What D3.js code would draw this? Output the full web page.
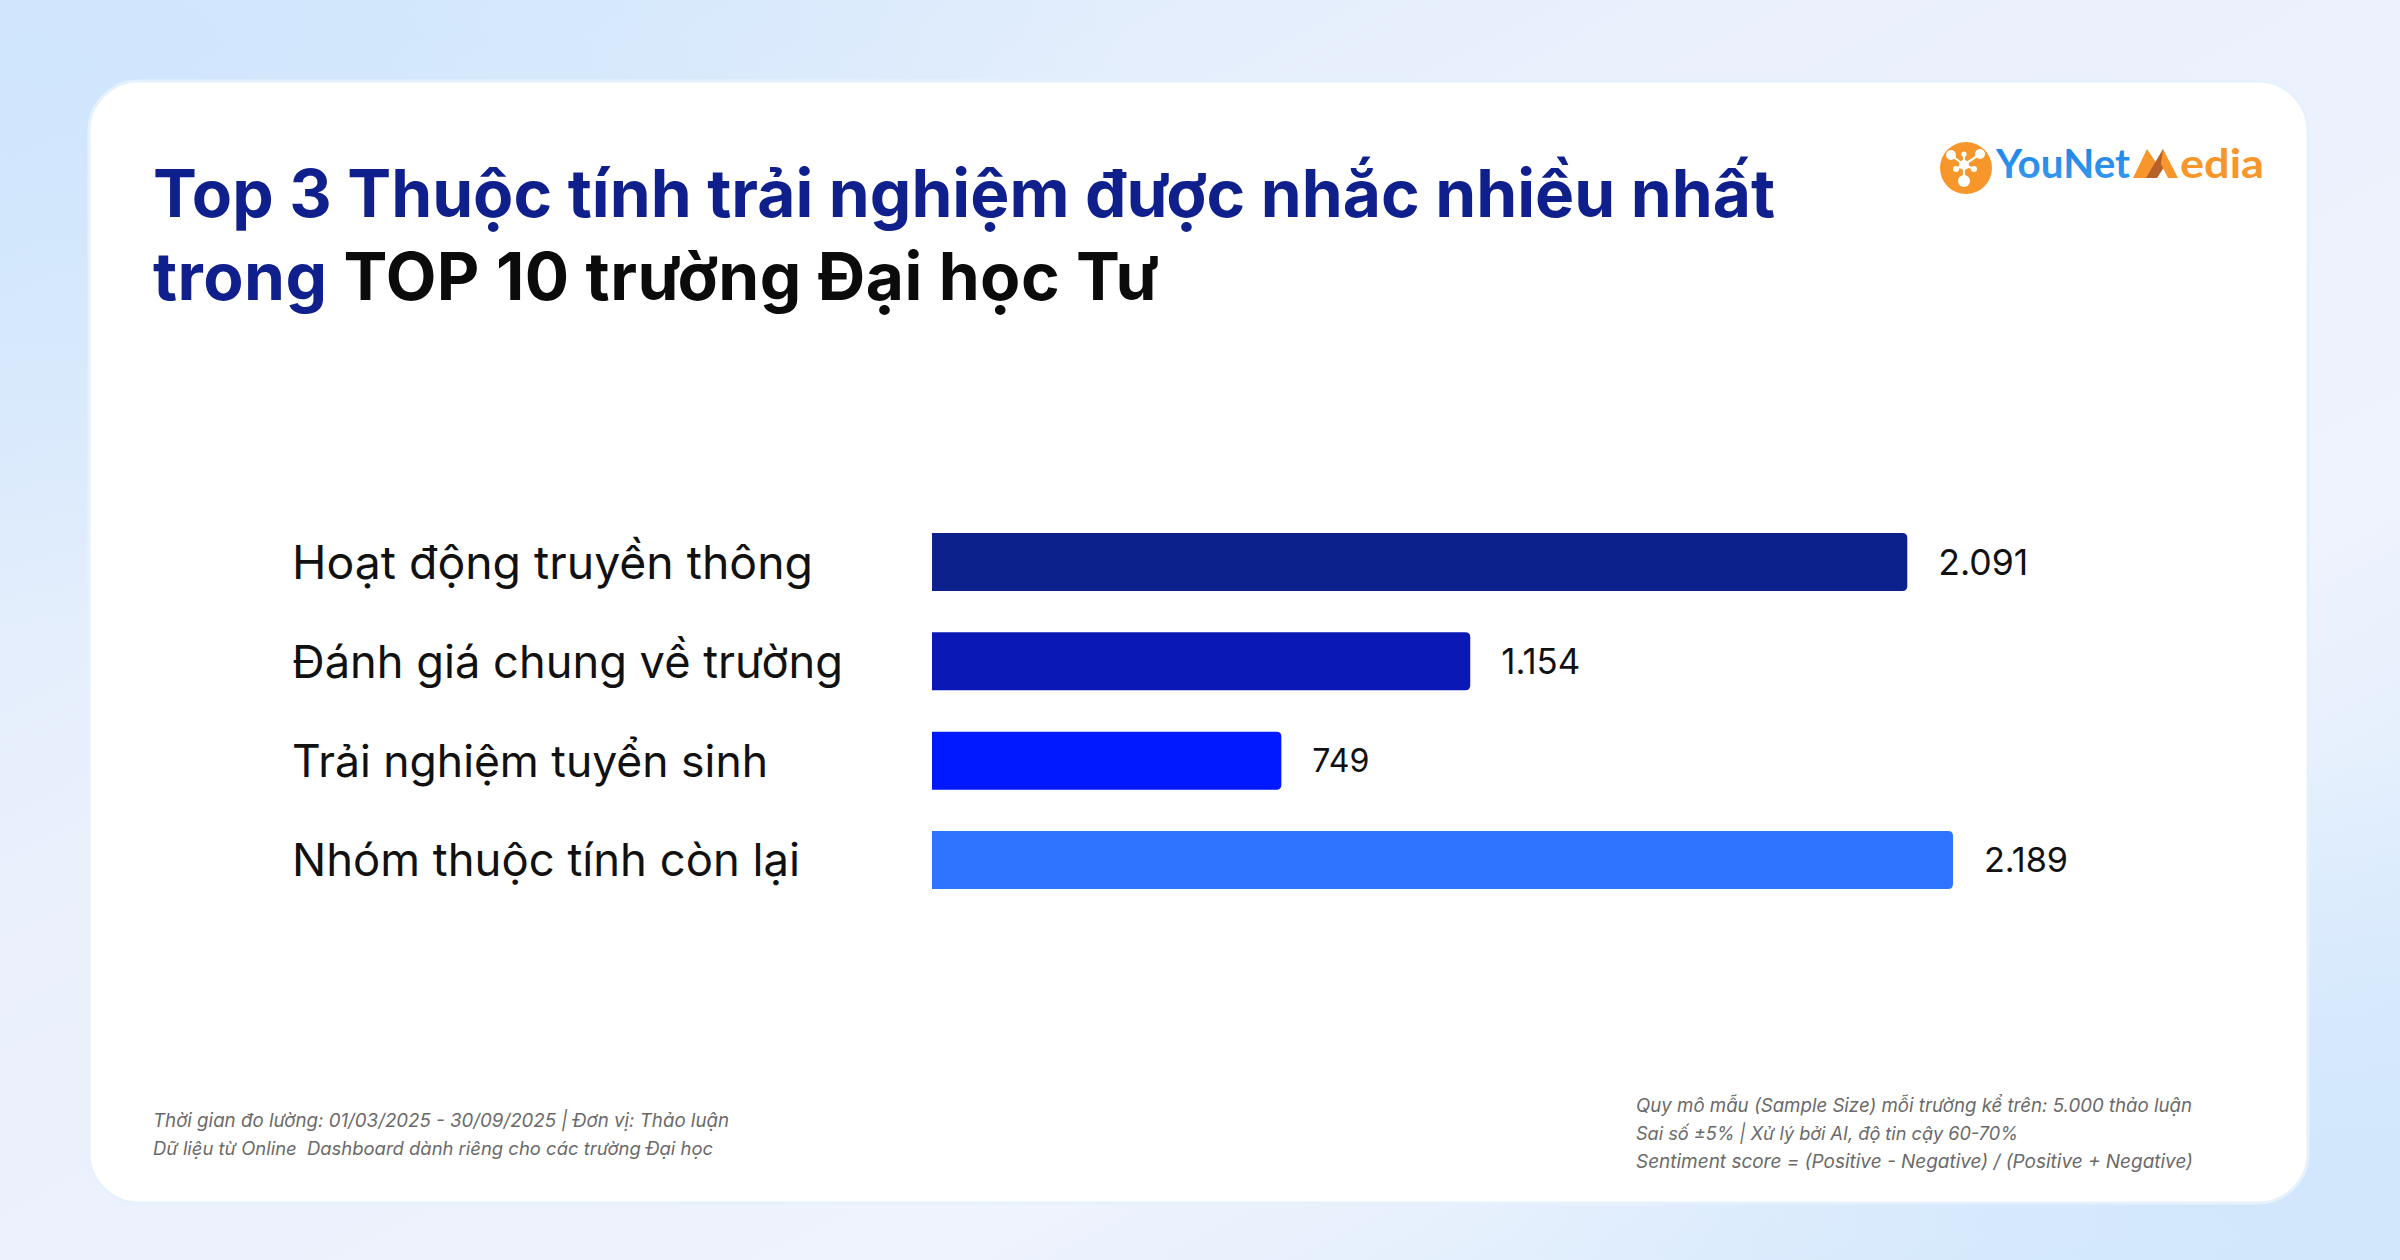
<!DOCTYPE html>
<html><head><meta charset="utf-8">
<script src="https://cdn.jsdelivr.net/npm/d3@7"></script>
<style>html,body{margin:0;padding:0;overflow:hidden;background:#eaf1fd}</style>
</head><body><svg id="c" width="2400" height="1260" xmlns="http://www.w3.org/2000/svg"></svg>
<script>
// ---- data ----
const categories = ["Hoạt động truyền thông","Đánh giá chung về trường","Trải nghiệm tuyển sinh","Nhóm thuộc tính còn lại"];
const values = [2091, 1154, 749, 2189];
const valueLabels = ["2.091", "1.154", "749", "2.189"];
const barColors = ["#0c218c", "#0a19b6", "#0019fe", "#2f74ff"];
const titleLine1 = "Top 3 Thuộc tính trải nghiệm được nhắc nhiều nhất";
const titleLine2a = "trong";
const titleLine2b = " TOP 10 trường Đại học Tư";
const footLeft = ["Thời gian đo lường: 01/03/2025 - 30/09/2025 | Đơn vị: Thảo luận",
                  "Dữ liệu từ Online  Dashboard dành riêng cho các trường Đại học"];
const footRight = ["Quy mô mẫu (Sample Size) mỗi trường kể trên: 5.000 thảo luận",
                   "Sai số ±5% | Xử lý bởi AI, độ tin cậy 60-70%",
                   "Sentiment score = (Positive - Negative) / (Positive + Negative)"];

const svg = d3.select("#c");
const defs = svg.append("defs");

// background
const bg = defs.append("linearGradient").attr("id","bg").attr("x1","0").attr("y1","0").attr("x2","1").attr("y2","1");
bg.append("stop").attr("offset","0").attr("stop-color","#d4e8fc");
bg.append("stop").attr("offset","0.35").attr("stop-color","#eaf0fc");
bg.append("stop").attr("offset","0.7").attr("stop-color","#eef3fd");
bg.append("stop").attr("offset","1").attr("stop-color","#d3e8fc");
svg.append("rect").attr("width",2400).attr("height",1260).attr("fill","url(#bg)");
const rg = defs.append("radialGradient").attr("id","rg1").attr("cx","0.02").attr("cy","0.05").attr("r","0.45");
rg.append("stop").attr("offset","0").attr("stop-color","#d0e6fc").attr("stop-opacity",1);
rg.append("stop").attr("offset","1").attr("stop-color","#d0e6fc").attr("stop-opacity",0);
svg.append("rect").attr("width",2400).attr("height",1260).attr("fill","url(#rg1)");
const rg2 = defs.append("radialGradient").attr("id","rg2").attr("cx","0.98").attr("cy","0.95").attr("r","0.35");
rg2.append("stop").attr("offset","0").attr("stop-color","#d2e7fc").attr("stop-opacity",1);
rg2.append("stop").attr("offset","1").attr("stop-color","#d2e7fc").attr("stop-opacity",0);
svg.append("rect").attr("width",2400).attr("height",1260).attr("fill","url(#rg2)");

// card
svg.append("rect").attr("x",89).attr("y",81).attr("width",2219).attr("height",1122)
  .attr("rx",50).attr("ry",50).attr("fill","#ffffff").attr("stroke","#e6f1fe").attr("stroke-width",3);

function fit(t, w, minScale=0.85, maxScale=1.15){
  const n = t.node();
  const fs = parseFloat(t.attr("font-size"));
  const len = n.getComputedTextLength();
  let s = w/len; s = Math.max(minScale, Math.min(maxScale, s));
  t.attr("font-size", fs*s);
  t.attr("textLength", w).attr("lengthAdjust","spacing");
}

// title
const tFont = "Inter, 'Plus Jakarta Sans', 'Open Sans', sans-serif";
const t1 = svg.append("text").attr("x",153).attr("y",217).attr("font-family",tFont)
  .attr("font-weight",700).attr("font-size",68).attr("fill","#0f1f8c").text(titleLine1);
fit(t1, 1622);
const t2 = svg.append("text").attr("x",153).attr("y",300).attr("font-family",tFont)
  .attr("font-weight",700).attr("font-size",t1.attr("font-size"));
t2.append("tspan").attr("fill","#0f1f8c").text(titleLine2a);
t2.append("tspan").attr("fill","#0b0b0b").text(titleLine2b);
t2.attr("textLength",1006).attr("lengthAdjust","spacing");

// logo
const logo = svg.append("g");
const cx = 1966, cy = 168;
logo.append("circle").attr("cx",cx).attr("cy",cy).attr("r",26).attr("fill","#f7962a");
const nodes = [[-15,-13,5],[-2,-14,2.6],[14,-14,5],[-10,1,3],[8,1,3],[-2,13,6]];
const hub = [-2,-3];
nodes.forEach(n => logo.append("line").attr("x1",cx+hub[0]).attr("y1",cy+hub[1]).attr("x2",cx+n[0]).attr("y2",cy+n[1]).attr("stroke","#fff").attr("stroke-width",2.2));
logo.append("circle").attr("cx",cx+hub[0]).attr("cy",cy+hub[1]).attr("r",5).attr("fill","#fff");
nodes.forEach(n => logo.append("circle").attr("cx",cx+n[0]).attr("cy",cy+n[1]).attr("r",n[2]).attr("fill","#fff"));
const lg = defs.append("linearGradient").attr("id","lg").attr("x1","0").attr("x2","0").attr("y1","0").attr("y2","1");
lg.append("stop").attr("offset","0").attr("stop-color","#1a80e6");
lg.append("stop").attr("offset","1").attr("stop-color","#3a9cf0");
const yn = logo.append("text").attr("x",1996).attr("y",178).attr("font-family","Lato, 'Open Sans', sans-serif")
  .attr("font-weight",700).attr("font-size",40).attr("fill","url(#lg)").text("YouNet");
yn.attr("textLength",134).attr("lengthAdjust","spacingAndGlyphs");
logo.append("polygon").attr("points","2133,178 2147,149 2157,164 2149,178").attr("fill","#f7962a");
logo.append("polygon").attr("points","2146,178 2163,149 2168,161 2157,178").attr("fill","#b8602a");
logo.append("polygon").attr("points","2163,149 2178,178 2168,178 2161,164").attr("fill","#f7962a");
logo.append("text").attr("x",2180).attr("y",178).attr("font-family","Lato, 'Open Sans', sans-serif")
  .attr("font-weight",700).attr("font-size",40).attr("fill","#f7962a").text("edia")
  .attr("textLength",84).attr("lengthAdjust","spacingAndGlyphs");

// chart
const x = d3.scaleLinear().domain([0, d3.max(values)]).range([932, 1953]);
const y = d3.scaleBand().domain(categories).range([533, 889]).paddingInner(0.416).paddingOuter(0);
const r = 5;
const data = categories.map((c,i)=>({c, v:values[i], l:valueLabels[i], col:barColors[i]}));
svg.append("g").selectAll("path").data(data).join("path")
  .attr("d", d => {
    const x0 = x(0), x1 = x(d.v), y0 = y(d.c), h = y.bandwidth();
    return `M${x0},${y0} H${x1-r} Q${x1},${y0} ${x1},${y0+r} V${y0+h-r} Q${x1},${y0+h} ${x1-r},${y0+h} H${x0} Z`;
  })
  .attr("fill", d => d.col);

const lblFont = "Inter, 'Open Sans', sans-serif";
const labelWidths = [521, 551, 476, 508];
svg.append("g").selectAll("text").data(data).join("text")
  .attr("x", 292).attr("y", d => y(d.c) + y.bandwidth()/2)
  .attr("dominant-baseline","central")
  .attr("font-family", lblFont).attr("font-size", 46).attr("font-weight",400)
  .attr("fill","#111111").text(d => d.c)
  .each(function(d,i){ fit(d3.select(this), labelWidths[i]); });

const valWidths = [90, 79, 57, 84];
svg.append("g").selectAll("text").data(data).join("text")
  .attr("x", d => x(d.v) + 31).attr("y", d => y(d.c) + y.bandwidth()/2)
  .attr("dominant-baseline","central")
  .attr("font-family", lblFont).attr("font-size", 35).attr("font-weight",400)
  .attr("fill","#111111").text(d => d.l)
  .each(function(d,i){ fit(d3.select(this), valWidths[i]); });

// footers
const fFont = "Inter, 'Open Sans', sans-serif";
const flW = [576, 560];
footLeft.forEach((s,i) => {
  const t = svg.append("text").attr("x",153).attr("y",1127 + i*28).attr("font-family",fFont)
    .attr("font-style","italic").attr("font-size",20).attr("fill","#6a6a6a")
    .attr("xml:space","preserve").style("white-space","pre").text(s);
  fit(t, flW[i]);
});
const frW = [556, 382, 557];
footRight.forEach((s,i) => {
  const t = svg.append("text").attr("x",1636).attr("y",1112 + i*28).attr("font-family",fFont)
    .attr("font-style","italic").attr("font-size",20).attr("fill","#6a6a6a").text(s);
  fit(t, frW[i]);
});
</script></body></html>
